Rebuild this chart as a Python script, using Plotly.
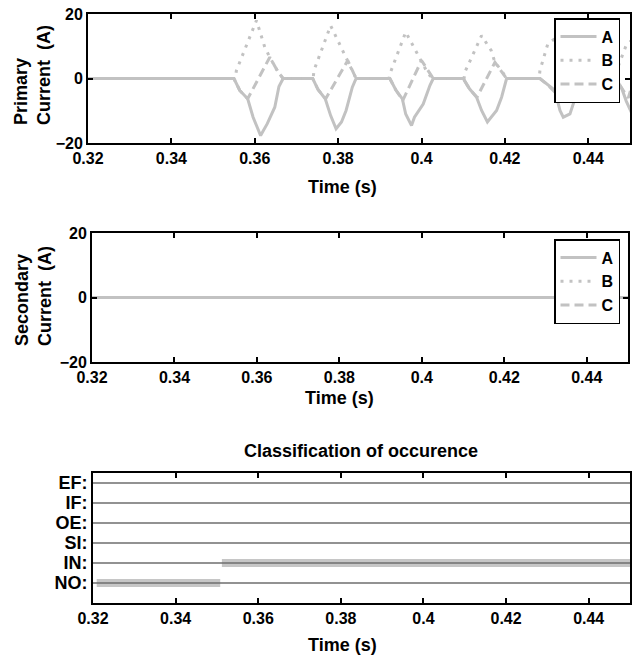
import plotly.graph_objects as go

W, H = 634, 658

# ---------------- data ----------------
x_ticks = [0.32, 0.34, 0.36, 0.38, 0.40, 0.42, 0.44]
x_ticklabels = ["0.32", "0.34", "0.36", "0.38", "0.4", "0.42", "0.44"]
y_ticks_current = [-20, 0, 20]

prim_t_A = [0.3200, 0.3550, 0.3564, 0.3583, 0.3596, 0.3614, 0.3630, 0.3648, 0.3658, 0.3668,
            0.3739, 0.3752, 0.3769, 0.3782, 0.3795, 0.3808, 0.3819, 0.3834, 0.3843,
            0.3924, 0.3938, 0.3954, 0.3962, 0.3976, 0.3983, 0.4004, 0.4020, 0.4028,
            0.4100, 0.4115, 0.4132, 0.4144, 0.4158, 0.4180, 0.4192, 0.4204,
            0.4284, 0.4300, 0.4320, 0.4332, 0.4340, 0.4356, 0.4372, 0.4384,
            0.4466, 0.4480, 0.4491, 0.4505]
prim_A = [0, 0, -3.7, -6.3, -12.0, -17.7, -14.0, -8.9, -2.5, 0,
          0, -3.5, -6.3, -11.5, -15.6, -13.5, -9.9, -2.7, 0,
          0, -3.5, -6.3, -11.0, -14.6, -12.0, -7.9, -2.2, 0,
          0, -3.2, -5.8, -9.9, -13.5, -9.9, -5.8, 0,
          0, -1.7, -3.7, -9.9, -12.0, -11.0, -4.8, 0,
          0, -3.0, -7.0, -11.0]

prim_t_B = [0.3200, 0.3553, 0.3556, 0.3604, 0.3624, 0.3636, 0.3656, 0.3668,
            0.3740, 0.3742, 0.3782, 0.3807, 0.3823, 0.3843,
            0.3922, 0.3924, 0.3962, 0.3988, 0.4000, 0.4016, 0.4028,
            0.4102, 0.4104, 0.4144, 0.4167, 0.4176, 0.4192, 0.4204,
            0.4282, 0.4284, 0.4303, 0.4322, 0.4350, 0.4360, 0.4388,
            0.4466, 0.4468, 0.4490, 0.4505]
prim_B = [0, 0, 2.5, 18.0, 9.7, 6.6, 2.0, 0,
          0, 2.5, 16.4, 9.7, 5.6, 0,
          0, 1.4, 14.4, 8.2, 5.6, 1.4, 0,
          0, 2.0, 13.3, 8.7, 5.0, 2.5, 0,
          0, 2.5, 10.8, 12.5, 7.5, 4.5, 0,
          0, 2.5, 10.0, 12.0]

prim_t_C = [0.3200, 0.3550, 0.3564, 0.3583, 0.3636, 0.3656, 0.3668,
            0.3739, 0.3752, 0.3770, 0.3823, 0.3843,
            0.3924, 0.3938, 0.3955, 0.4000, 0.4028,
            0.4100, 0.4115, 0.4133, 0.4176, 0.4204,
            0.4284, 0.4300, 0.4318, 0.4360, 0.4388,
            0.4466, 0.4480, 0.4496, 0.4505]
prim_C = [0, 0, -3.7, -6.3, 6.6, 2.0, 0,
          0, -3.5, -6.3, 5.6, 0,
          0, -3.5, -6.8, 5.6, 0,
          0, -3.2, -5.8, 5.0, 0,
          0, -1.7, -4.0, 4.5, 0,
          0, -3.0, -6.0, -2.0]

sec_t = [0.32, 0.45]
sec_A = [0, 0]
sec_B = [0, 0]
sec_C = [0, 0]

class_names = ["NO:", "IN:", "SI:", "OE:", "IF:", "EF:"]
class_levels = [1, 2, 3, 4, 5, 6]
seg_start = [0.3209, 0.3512]
seg_end = [0.3508, 0.4500]
seg_level = [1, 2]

# ---------------- styling ----------------
GRAY = "#c2c2c2"
FONT = "Liberation Sans"
tickfont = dict(family=FONT, size=16, color="black", weight="bold")

def px_x(p):
    return p / W

def px_y(p):
    return 1 - p / H

fig = go.Figure()

styles = [("A", "solid"), ("B", "3px,6px"), ("C", "9px,5px")]
prim = [(prim_t_A, prim_A), (prim_t_B, prim_B), (prim_t_C, prim_C)]
for (name, dash), (t, v) in zip(styles, prim):
    fig.add_trace(go.Scatter(x=t, y=v, mode="lines", name=name,
                             line=dict(color=GRAY, width=3, dash=dash),
                             xaxis="x", yaxis="y", legend="legend"))

for (name, dash), v in zip(styles, [sec_A, sec_B, sec_C]):
    fig.add_trace(go.Scatter(x=sec_t, y=v, mode="lines", name=name,
                             line=dict(color=GRAY, width=3, dash=dash),
                             xaxis="x2", yaxis="y2", legend="legend2"))

for s, e, lv in zip(seg_start, seg_end, seg_level):
    fig.add_trace(go.Scatter(x=[s, e], y=[lv, lv], mode="lines", showlegend=False,
                             line=dict(color="#c6c6c6", width=8),
                             xaxis="x3", yaxis="y3"))

def xaxis(domain, anchor):
    return dict(domain=domain, anchor=anchor, range=[0.32, 0.45],
                tickvals=x_ticks, ticktext=x_ticklabels, ticks="inside", ticklen=5,
                tickcolor="black", tickwidth=1.5, showline=True, linecolor="black",
                linewidth=2, mirror="ticks", showgrid=False, zeroline=False,
                tickfont=tickfont, automargin=False)

def yaxis_cur(domain, anchor):
    return dict(domain=domain, anchor=anchor, range=[-20, 20], tickvals=y_ticks_current,
                ticks="inside", ticklen=5, tickcolor="black", tickwidth=1.5,
                showline=True, linecolor="black", linewidth=2, mirror="ticks",
                showgrid=False, zeroline=False, tickfont=tickfont, automargin=False)

legend_font = dict(family=FONT, size=16, color="black", weight="bold")

fig.update_layout(
    width=W, height=H, margin=dict(l=0, r=0, t=0, b=0, pad=0, autoexpand=False),
    paper_bgcolor="white", plot_bgcolor="white",
    xaxis=xaxis([px_x(88), px_x(630)], "y"),
    yaxis=yaxis_cur([px_y(143), px_y(14)], "x"),
    xaxis2=xaxis([px_x(92), px_x(628)], "y2"),
    yaxis2=yaxis_cur([px_y(362), px_y(233)], "x2"),
    xaxis3=xaxis([px_x(93), px_x(630)], "y3"),
    yaxis3=dict(domain=[px_y(603), px_y(473)], anchor="x3", range=[0, 6.5],
                tickvals=class_levels, ticktext=class_names, ticks="",
                showline=True, linecolor="black", linewidth=2, mirror=True,
                showgrid=False, zeroline=False, automargin=False,
                tickfont=dict(family=FONT, size=18, color="black", weight="bold")),
    legend=dict(x=px_x(554), y=px_y(18), xanchor="left", yanchor="top",
                bordercolor="black", borderwidth=1.5, bgcolor="white",
                font=legend_font, tracegroupgap=0, itemwidth=36),
    legend2=dict(x=px_x(554), y=px_y(239), xanchor="left", yanchor="top",
                 bordercolor="black", borderwidth=1.5, bgcolor="white",
                 font=legend_font, tracegroupgap=0, itemwidth=36),
)

for lv in class_levels:
    fig.add_shape(type="line", xref="x3 domain", x0=0, x1=1, yref="y3", y0=lv, y1=lv,
                  line=dict(color="#6e6e6e", width=1.5), layer="above")

title_font = dict(family=FONT, size=18, color="black", weight="bold")
ann = [
    dict(text="Time (s)", x=px_x(342), y=px_y(187)),
    dict(text="Time (s)", x=px_x(339), y=px_y(398)),
    dict(text="Time (s)", x=px_x(342), y=px_y(645)),
    dict(text="Classification of occurence", x=px_x(361), y=px_y(451)),
]
for a in ann:
    fig.add_annotation(text=a["text"], x=a["x"], y=a["y"], xref="paper", yref="paper",
                       xanchor="center", yanchor="middle", showarrow=False, font=title_font)

for txt, ybot in [("Primary<br>Current  (A)", 127), ("Secondary<br>Current  (A)", 348)]:
    fig.add_annotation(text=txt, x=px_x(33), y=px_y(ybot), xref="paper", yref="paper",
                       xanchor="center", yanchor="bottom", textangle=-90, align="left",
                       showarrow=False, font=title_font)

fig.write_html("out.html")
